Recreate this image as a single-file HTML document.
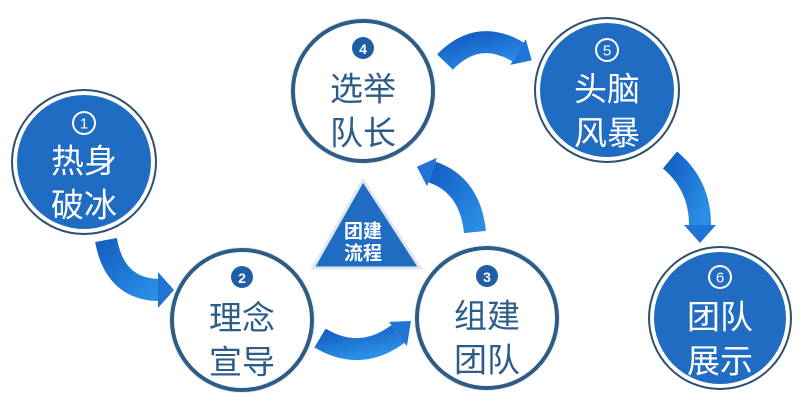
<!DOCTYPE html>
<html><head><meta charset="utf-8"><style>
html,body{margin:0;padding:0;background:#fff;}
svg{display:block;}
text{font-family:"Liberation Sans","Noto Sans CJK SC",sans-serif;text-anchor:middle;dominant-baseline:central;}
</style></head><body>
<svg width="806" height="403" viewBox="0 0 806 403" xmlns="http://www.w3.org/2000/svg">
<defs>
<linearGradient id="ag" x1="0" y1="0" x2="1" y2="1">
<stop offset="0" stop-color="#1560c4"/><stop offset="1" stop-color="#2a8fe6"/>
</linearGradient>
</defs>
<!-- arrows -->
<g fill="none" stroke="url(#ag)" stroke-width="22">
<path d="M106 240 Q115 290 160 290"/>
<path d="M320 338 Q360 362 398 334"/>
<path d="M475 232 Q470 185 432 172"/>
<path d="M445 62 Q478 28 518 52"/>
<path d="M670 160 Q700 185 700 225"/>
</g>
<g fill="#1f74d6">
<polygon points="158,272 158,308 174,290"/>
<polygon points="406.9,346.1 389.1,321.9 411,321"/>
<polygon points="436.9,157.8 427.1,186.2 416.9,166.8"/>
<polygon points="510.3,64.9 525.7,39.1 531.7,60.2"/>
<polygon points="684,225 716,225 700,243"/>
</g>
<!-- triangle -->
<polygon points="363,180 313,268 420,268" fill="#1f6cc2" stroke="#dfe8f2" stroke-width="3"/>
<text x="363" y="232" font-size="19" fill="#fff" font-weight="bold">团建</text>
<text x="363" y="254" font-size="19" fill="#fff" font-weight="bold">流程</text>

<!-- blue circles -->
<g>
<circle cx="84" cy="162" r="73" fill="#2d4f70"/>
<circle cx="84" cy="162" r="71" fill="#fff"/>
<circle cx="84" cy="162" r="67" fill="#1f6cc2"/>
<circle cx="84" cy="123" r="12" fill="#fff"/><circle cx="84" cy="123" r="10" fill="#1f6cc2"/>
<text x="84" y="124" font-size="15" fill="#fff">1</text>
<text x="84" y="161" font-size="33" fill="#fff">热身</text>
<text x="84" y="205" font-size="33" fill="#fff">破冰</text>

<circle cx="607" cy="90" r="73" fill="#2d4f70"/>
<circle cx="607" cy="90" r="71" fill="#fff"/>
<circle cx="607" cy="90" r="67" fill="#1f6cc2"/>
<circle cx="607" cy="50" r="12" fill="#fff"/><circle cx="607" cy="50" r="10" fill="#1f6cc2"/>
<text x="607" y="51" font-size="15" fill="#fff">5</text>
<text x="607" y="89" font-size="33" fill="#fff">头脑</text>
<text x="607" y="133" font-size="33" fill="#fff">风暴</text>

<circle cx="720" cy="318" r="72" fill="#2d4f70"/>
<circle cx="720" cy="318" r="70" fill="#fff"/>
<circle cx="720" cy="318" r="66" fill="#1f6cc2"/>
<circle cx="720" cy="277" r="12" fill="#fff"/><circle cx="720" cy="277" r="10" fill="#1f6cc2"/>
<text x="720" y="278" font-size="15" fill="#fff">6</text>
<text x="720" y="317" font-size="33" fill="#fff">团队</text>
<text x="720" y="361" font-size="33" fill="#fff">展示</text>
</g>

<!-- white circles -->
<g>
<circle cx="363" cy="91" r="73" fill="#e4ebf2"/>
<circle cx="363" cy="91" r="70" fill="#fff" stroke="#2f5c85" stroke-width="4"/>
<circle cx="363" cy="48" r="11" fill="#1f5fa6"/>
<text x="363" y="49" font-size="14" fill="#fff" font-weight="bold">4</text>
<text x="363" y="89" font-size="33" fill="#2c5c8a">选举</text>
<text x="363" y="133" font-size="33" fill="#2c5c8a">队长</text>

<circle cx="242" cy="320" r="73" fill="#e4ebf2"/>
<circle cx="242" cy="320" r="70" fill="#fff" stroke="#2f5c85" stroke-width="4"/>
<circle cx="242" cy="277" r="11" fill="#1f5fa6"/>
<text x="242" y="278" font-size="14" fill="#fff" font-weight="bold">2</text>
<text x="242" y="318" font-size="33" fill="#2c5c8a">理念</text>
<text x="242" y="362" font-size="33" fill="#2c5c8a">宣导</text>

<circle cx="487" cy="318" r="73" fill="#e4ebf2"/>
<circle cx="487" cy="318" r="70" fill="#fff" stroke="#2f5c85" stroke-width="4"/>
<circle cx="487" cy="276" r="11" fill="#1f5fa6"/>
<text x="487" y="277" font-size="14" fill="#fff" font-weight="bold">3</text>
<text x="487" y="316" font-size="33" fill="#2c5c8a">组建</text>
<text x="487" y="360" font-size="33" fill="#2c5c8a">团队</text>
</g>
</svg>
</body></html>
